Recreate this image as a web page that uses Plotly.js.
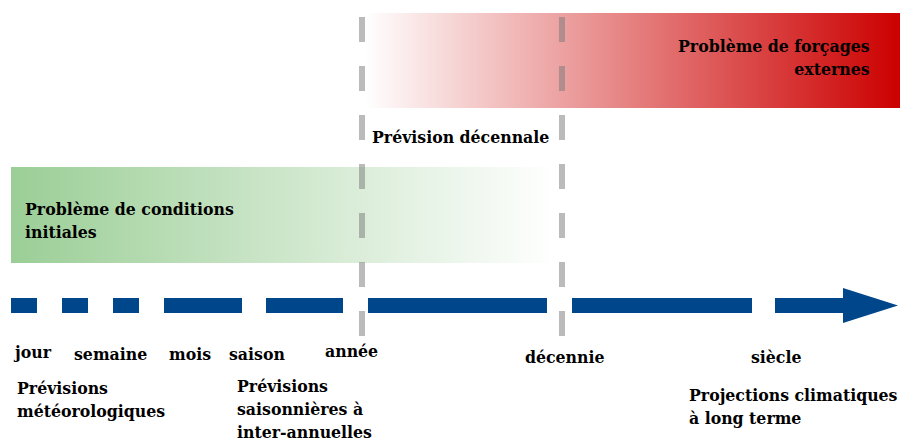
<!DOCTYPE html>
<html>
<head>
<meta charset="utf-8">
<script src="https://cdn.plot.ly/plotly-3.0.1.min.js"></script>
<style>html,body{margin:0;padding:0;background:#fff;}#chart{width:900px;height:441px;}</style>
</head>
<body>
<div id="chart"></div>
<script>
// Time-scale labels along the axis
const scaleLabels = ['jour', 'semaine', 'mois', 'saison', 'année', 'décennie', 'siècle'];
const scaleX = [32, 110, 190, 257, 351, 565, 776];
const scaleY = [352, 354, 354, 354, 351, 357, 357];

// Timeline dash segments (start / end)
const segStart = [11, 62, 113, 164, 266, 368, 572, 775];
const segEnd   = [37, 88, 139, 242, 343, 547, 752, 843];
const axisY = 305.5;
const arrowX = [843, 898, 843];
const arrowY = [288, 305.5, 323];

// Bands
const redBandX = [365, 900, 900, 365];
const redBandY = [13, 13, 108, 108];
const greenBandX = [11, 556, 556, 11];
const greenBandY = [167, 167, 263, 263];

// Dashed boundaries
const boundaryX = [362, 562];
const boundaryY = [17, 336];

// Texts
const bandTexts = ['Problème de forçages<br>externes', 'Prévision décennale', 'Problème de conditions<br>initiales'];
const bandTextX = [872, 370, 23];
const bandTextY = [57.5, 137, 220];
const bandAnchor = ['right', 'left', 'left'];
const forecastTexts = ['Prévisions<br>météorologiques', 'Prévisions<br>saisonnières à<br>inter-annuelles', 'Projections climatiques<br>à long terme'];
const forecastX = [15, 235, 687];
const forecastY = [399, 409, 406];

const blue = '#00468A';
const font = {family: 'DejaVu Serif Condensed', size: 17.5, color: '#000', weight: 'bold'};

const traces = [];
traces.push({
  x: redBandX.concat([redBandX[0]]), y: redBandY.concat([redBandY[0]]),
  type: 'scatter', mode: 'lines', fill: 'toself', line: {width: 0},
  fillgradient: {type: 'horizontal', colorscale: [[0, 'rgb(255,255,255)'], [1, 'rgb(204,0,0)']]},
  hoverinfo: 'skip'
});
traces.push({
  x: greenBandX.concat([greenBandX[0]]), y: greenBandY.concat([greenBandY[0]]),
  type: 'scatter', mode: 'lines', fill: 'toself', line: {width: 0},
  fillgradient: {type: 'horizontal', colorscale: [[0, 'rgb(155,206,150)'], [1, 'rgb(255,255,255)']]},
  hoverinfo: 'skip'
});
// timeline
const tx = [], ty = [];
segStart.forEach((s, i) => { tx.push(s, segEnd[i], null); ty.push(axisY, axisY, null); });
traces.push({x: tx, y: ty, type: 'scatter', mode: 'lines', line: {color: blue, width: 15}, hoverinfo: 'skip'});
traces.push({
  x: arrowX.concat([arrowX[0]]), y: arrowY.concat([arrowY[0]]),
  type: 'scatter', mode: 'lines', fill: 'toself', fillcolor: blue, line: {width: 0}, hoverinfo: 'skip'
});
boundaryX.forEach(bx => {
  traces.push({x: [bx, bx], y: boundaryY, type: 'scatter', mode: 'lines',
    line: {color: 'rgba(120,120,120,0.5)', width: 6, dash: '25px,24px'}, hoverinfo: 'skip'});
});

const annotations = [];
scaleLabels.forEach((t, i) => annotations.push({
  x: scaleX[i], y: scaleY[i], xref: 'x', yref: 'y', text: t, showarrow: false,
  xanchor: 'center', yanchor: 'middle', font: font
}));
bandTexts.forEach((t, i) => annotations.push({
  x: bandTextX[i], y: bandTextY[i], xref: 'x', yref: 'y', text: t, showarrow: false,
  xanchor: bandAnchor[i], yanchor: 'middle', align: bandAnchor[i], font: font
}));
forecastTexts.forEach((t, i) => annotations.push({
  x: forecastX[i], y: forecastY[i], xref: 'x', yref: 'y', text: t, showarrow: false,
  xanchor: 'left', yanchor: 'middle', align: 'left', font: font
}));

const layout = {
  width: 900, height: 441,
  margin: {l: 0, r: 0, t: 0, b: 0},
  paper_bgcolor: '#fff', plot_bgcolor: '#fff',
  showlegend: false,
  xaxis: {range: [0, 900], visible: false, fixedrange: true},
  yaxis: {range: [441, 0], visible: false, fixedrange: true},
  annotations: annotations
};
Plotly.newPlot('chart', traces, layout, {staticPlot: true, displayModeBar: false});
</script>
</body>
</html>
